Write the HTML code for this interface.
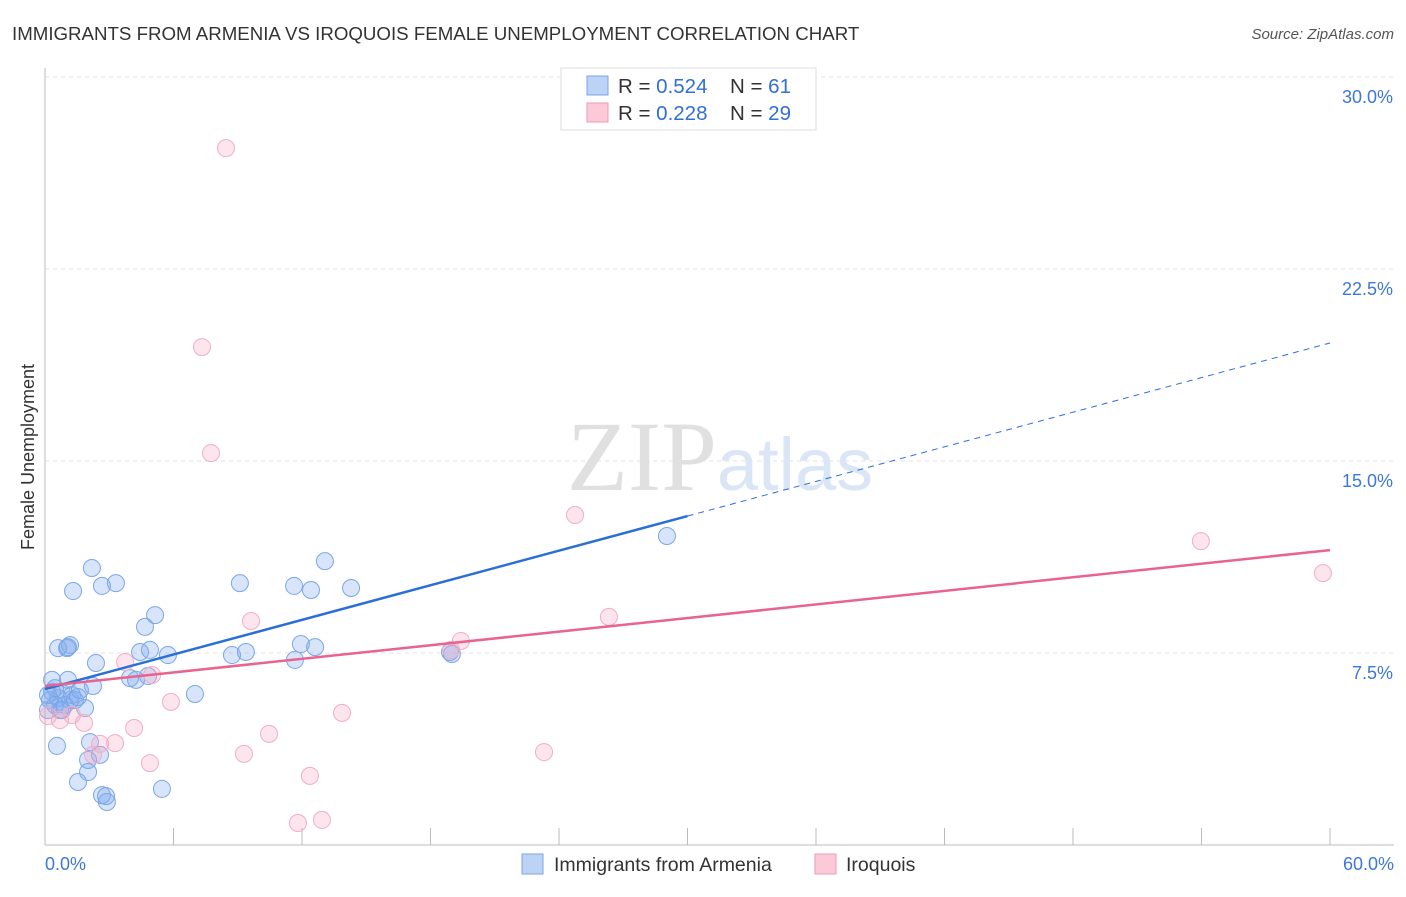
<!DOCTYPE html>
<html><head><meta charset="utf-8"><style>
body{margin:0;background:#fff;font-family:"Liberation Sans",sans-serif}
svg text{font-family:"Liberation Sans",sans-serif}
</style></head><body>
<svg id="chart" width="1406" height="892">
<text x="12" y="40" font-size="18.7" fill="#333">IMMIGRANTS FROM ARMENIA VS IROQUOIS FEMALE UNEMPLOYMENT CORRELATION CHART</text>
<text x="1394" y="39" font-size="15" fill="#555" font-style="italic" text-anchor="end">Source: ZipAtlas.com</text>
<text x="34" y="457" font-size="18" fill="#333" text-anchor="middle" transform="rotate(-90 34 457)">Female Unemployment</text>
<g id="grid"></g>
<text x="720" y="490" font-size="100" fill="#e4e4e4" text-anchor="middle" font-family="Liberation Serif"><tspan font-family="Liberation Serif" fill="#e0e0e0">ZIP</tspan><tspan font-size="74" fill="#dae6f6" font-family="Liberation Sans">atlas</tspan></text>
<g id="marks"></g>
<g>
<rect x="561" y="68" width="255" height="62" fill="#fff" stroke="#ddd"/>
<rect x="587" y="76" width="21" height="19" fill="#bcd3f5" stroke="#7aa6e8"/>
<rect x="587" y="103" width="21" height="19" fill="#fbc9d8" stroke="#ee9ab5"/>
<text x="618" y="93" font-size="20.5" fill="#333">R = <tspan fill="#2f6fd6">0.524</tspan></text>
<text x="730" y="93" font-size="20.5" fill="#333">N = <tspan fill="#2f6fd6"> 61</tspan></text>
<text x="618" y="120" font-size="20.5" fill="#333">R = <tspan fill="#2f6fd6">0.228</tspan></text>
<text x="730" y="120" font-size="20.5" fill="#333">N = <tspan fill="#2f6fd6">29</tspan></text>
</g>
<g>
<rect x="522" y="854" width="21" height="20" fill="#bcd3f5" stroke="#7aa6e8"/>
<text x="554" y="871" font-size="19.5" fill="#333">Immigrants from Armenia</text>
<rect x="815" y="854" width="21" height="20" fill="#fbc9d8" stroke="#ee9ab5"/>
<text x="846" y="871" font-size="19.5" fill="#333">Iroquois</text>
</g>
</svg>
<script>
const blueX=[.33,.33,.23,.14,.47,.61,.79,.70,.93,1.07,1.17,1.26,1.40,1.63,1.87,2.24,.61,1.03,1.17,1.07,2.38,1.31,2.19,2.66,3.31,.56,2.10,2.57,2.01,2.01,1.54,2.66,2.89,2.85,5.46,3.97,4.25,4.44,4.90,4.67,5.14,4.81,5.74,7.00,8.73,9.38,9.10,11.63,12.42,13.07,14.29,11.95,12.61,11.67,18.91,19.00,29.04,.14,.47,.79,1.54];
const blueY=[5.98,6.45,5.66,5.27,5.47,5.74,5.94,5.27,5.47,6.45,5.66,5.86,5.66,6.05,5.35,6.21,7.69,7.69,7.81,7.73,7.11,9.92,10.82,10.12,10.23,3.87,4.02,3.52,3.32,2.85,2.46,1.95,1.68,1.91,2.19,6.52,6.45,7.54,7.62,8.52,8.98,6.60,7.42,5.90,7.42,7.54,10.23,10.12,9.96,11.09,10.04,7.85,7.73,7.23,7.54,7.46,12.07,5.86,6.13,5.27,5.78];
const pinkX=[8.45,7.33,7.75,24.75,53.97,59.67,26.33,19.42,18.96,9.62,3.74,5.00,5.88,13.87,.14,.70,1.26,1.82,4.16,2.57,3.27,10.46,9.29,23.30,4.90,12.37,11.81,12.93,2.24];
const pinkY=[27.22,19.45,15.31,12.89,11.87,10.62,8.91,7.97,7.62,8.75,7.15,6.64,5.59,5.16,5.04,4.88,5.08,4.77,4.57,3.95,3.98,4.34,3.56,3.63,3.20,2.70,0.86,0.98,3.52];
const blueTrend=[6.09,19.61]; const blueSolidEnd=30;
const pinkTrend=[6.21,11.52];
const yTicks=[7.5,15,22.5,30];
const xTickLabels=["0.0%","60.0%"];
const NS="http://www.w3.org/2000/svg";
const sx=v=>45+v/60*1285, sy=v=>845-v/30*768;
function mk(t,a,p){const e=document.createElementNS(NS,t);for(const k in a)e.setAttribute(k,a[k]);p.appendChild(e);return e;}
const grid=document.getElementById('grid'), marks=document.getElementById('marks');
yTicks.forEach(t=>{
  const l=mk('line',{x1:45,x2:1394,y1:sy(t),y2:sy(t),stroke:'#e2e2e2','stroke-dasharray':'4,4'},grid);
  
  
  const tx=mk('text',{x:1393,y:sy(t)+26,'font-size':18,fill:'#3b78d8','text-anchor':'end'},grid);
  tx.textContent=t.toFixed(1)+'%';
  
  
});
const ax=mk('line',{x1:45,x2:1394,y1:845,y2:845,stroke:'#bbb'},grid);


const ay=mk('line',{x1:45,x2:45,y1:68,y2:845,stroke:'#bbb'},grid);


for(let i=1;i<=10;i++){
  const t=mk('line',{x1:sx(i*6),x2:sx(i*6),y1:828,y2:845,stroke:'#bbb'},grid);
  
  
}
[[0,'start',45],[60,'end',1394]].forEach((d,i)=>{
  const t=mk('text',{x:d[2],y:870,'font-size':18,fill:'#3b78d8','text-anchor':d[1]},grid);
  t.textContent=xTickLabels[i];
  
  
});
function dot(x,y,f,s,n){
  const c=mk('circle',{cx:sx(x),cy:sy(y),r:8.5,fill:f,stroke:s,'stroke-width':1},marks);
  
  
}
blueX.forEach((x,i)=>dot(x,blueY[i],'rgba(130,172,238,0.32)','#7ba7e6','armenia-point'));
pinkX.forEach((x,i)=>dot(x,pinkY[i],'rgba(247,170,197,0.3)','#f2adc4','iroquois-point'));
const bAt=x=>blueTrend[0]+(blueTrend[1]-blueTrend[0])*x/60;
const l1=mk('line',{x1:sx(0),y1:sy(bAt(0)),x2:sx(blueSolidEnd),y2:sy(bAt(blueSolidEnd)),stroke:'#2a6fd6','stroke-width':2.5},marks);


const l2=mk('line',{x1:sx(blueSolidEnd),y1:sy(bAt(blueSolidEnd)),x2:sx(60),y2:sy(bAt(60)),stroke:'#2a6fd6','stroke-width':1,'stroke-dasharray':'6,5'},marks);


const l3=mk('line',{x1:sx(0),y1:sy(pinkTrend[0]),x2:sx(60),y2:sy(pinkTrend[1]),stroke:'#e8648f','stroke-width':2.5},marks);


</script>
</body></html>
